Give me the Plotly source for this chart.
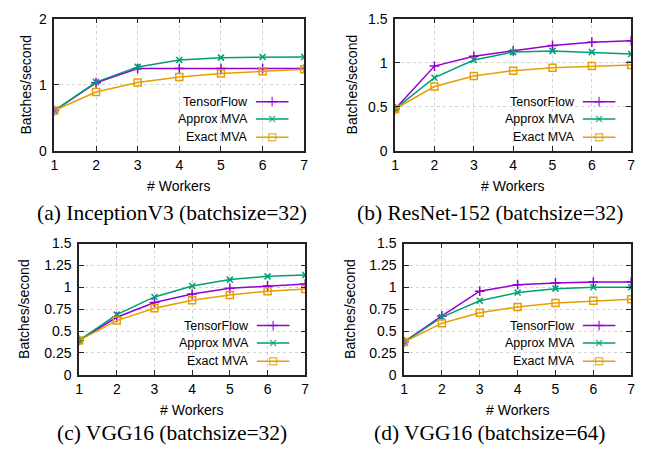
import plotly.graph_objects as go

W, H = 651, 462

workers = [1, 2, 3, 4, 5, 6, 7]
series_names = ["TensorFlow", "Approx MVA", "Exact MVA"]

a_tf = [0.61, 1.03, 1.245, 1.245, 1.245, 1.245, 1.245]
a_approx = [0.61, 1.04, 1.27, 1.375, 1.41, 1.42, 1.42]
a_exact = [0.61, 0.89, 1.035, 1.117, 1.17, 1.205, 1.235]

b_tf = [0.476, 0.962, 1.072, 1.134, 1.196, 1.233, 1.25]
b_approx = [0.476, 0.83, 1.03, 1.12, 1.134, 1.12, 1.098]
b_exact = [0.476, 0.73, 0.85, 0.91, 0.944, 0.962, 0.973]

c_tf = [0.393, 0.658, 0.827, 0.923, 0.989, 1.015, 1.037]
c_approx = [0.393, 0.688, 0.89, 1.015, 1.088, 1.125, 1.14]
c_exact = [0.393, 0.62, 0.76, 0.853, 0.912, 0.956, 0.98]

d_tf = [0.375, 0.673, 0.956, 1.03, 1.05, 1.06, 1.06]
d_approx = [0.375, 0.66, 0.846, 0.94, 0.985, 1.0, 1.0]
d_exact = [0.375, 0.59, 0.71, 0.776, 0.82, 0.846, 0.864]

captions = ["(a) InceptionV3 (batchsize=32)", "(b) ResNet-152 (batchsize=32)",
            "(c) VGG16 (batchsize=32)", "(d) VGG16 (batchsize=64)"]

yticks_a = [0, 1, 2]
yticks_b = [0, 0.5, 1, 1.5]
yticks_cd = [0, 0.25, 0.5, 0.75, 1, 1.25, 1.5]
ytext_a = ["0", "1", "2"]
ytext_b = ["0", "0.5", "1", "1.5"]
ytext_cd = ["0", "0.25", "0.5", "0.75", "1", "1.25", "1.5"]

colors = ["#9400D3", "#009E73", "#E69F00"]
symbols = ["cross-thin-open", "x-thin-open", "square-open"]
msizes = [7, 6, 7]

# panel pixel boxes: left, right, top, bottom
boxes = [(51, 304, 11, 148), (396, 635, 11, 148), (76, 305, 244, 380), (405, 635, 244, 380)]
panels = [
    ([a_tf, a_approx, a_exact], yticks_a, ytext_a, [0, 2]),
    ([b_tf, b_approx, b_exact], yticks_b, ytext_b, [0, 1.5]),
    ([c_tf, c_approx, c_exact], yticks_cd, ytext_cd, [0, 1.5]),
    ([d_tf, d_approx, d_exact], yticks_cd, ytext_cd, [0, 1.5]),
]
ytitle_x = [22, 352, 20, 350]
xtitle_y = [184, 184, 416, 416]
cap_pos = [(170, 212), (492, 212), (170, 440), (492, 440)]

FONT = "Liberation Sans, Arial, sans-serif"
fig = go.Figure()
layout = dict(width=W, height=H, margin=dict(l=0, r=0, t=0, b=0),
              paper_bgcolor="white", plot_bgcolor="rgba(0,0,0,0)", showlegend=False,
              font=dict(family=FONT, size=14, color="black"))
annotations = []

for i, (box, (series, ytv, ytt, yr)) in enumerate(zip(boxes, panels)):
    l, r, t, b = box
    n = i + 1
    xs = "" if n == 1 else str(n)
    xd = [l / W, r / W]
    yd = [1 - b / H, 1 - t / H]
    axcommon = dict(showline=True, linecolor="#222", linewidth=1.5, mirror="allticks",
                    ticks="inside", ticklen=5, tickwidth=1, tickcolor="#222",
                    showgrid=True, gridcolor="#d2d2d2", griddash="dot", gridwidth=1,
                    zeroline=False, tickfont=dict(size=14, family=FONT), fixedrange=True)
    layout["xaxis" + xs] = dict(domain=xd, range=[1, 7], tickvals=workers,
                                anchor="y" + xs, ticklabelstandoff=1, **axcommon)
    layout["yaxis" + xs] = dict(domain=yd, range=yr, tickvals=ytv, ticktext=ytt,
                                anchor="x" + xs, ticklabelstandoff=3, **axcommon)
    for s, vals in enumerate(series):
        fig.add_trace(go.Scatter(x=workers, y=vals, mode="lines+markers", name=series_names[s],
                                 xaxis="x" + xs, yaxis="y" + xs,
                                 line=dict(color=colors[s], width=1.5),
                                 marker=dict(symbol=symbols[s], size=msizes[s], color=colors[s],
                                             line=dict(color=colors[s], width=1.5))))
    # legend overlay axes in pixel units
    wpx, hpx = r - l, b - t
    ox = str(n + 4)
    layout["xaxis" + ox] = dict(overlaying="x" + xs, range=[0, wpx], visible=False,
                                anchor="y" + ox, fixedrange=True)
    layout["yaxis" + ox] = dict(overlaying="y" + xs, range=[0, hpx], visible=False,
                                anchor="x" + ox, fixedrange=True)
    rows = [51, 33, 14]
    for s in range(3):
        fig.add_trace(go.Scatter(x=[wpx - 49, wpx - 32.5, wpx - 16], y=[rows[s]] * 3,
                                 mode="lines+markers", xaxis="x" + ox, yaxis="y" + ox,
                                 line=dict(color=colors[s], width=1.5),
                                 marker=dict(symbol=symbols[s], size=[0, msizes[s], 0],
                                             color=colors[s],
                                             line=dict(color=colors[s], width=1.5)),
                                 hoverinfo="skip"))
        annotations.append(dict(text=series_names[s], x=wpx - 55, y=rows[s],
                                xref="x" + ox, yref="y" + ox, xanchor="right", yanchor="middle",
                                showarrow=False, font=dict(size=12.5, family=FONT)))
    # axis titles
    annotations.append(dict(text="Batches/second", x=ytitle_x[i] / W, y=1 - (t + b) / 2 / H,
                            xref="paper", yref="paper", textangle=-90, showarrow=False,
                            xanchor="center", yanchor="middle", font=dict(size=14, family=FONT)))
    annotations.append(dict(text="# Workers", x=(l + r) / 2 / W, y=1 - xtitle_y[i] / H,
                            xref="paper", yref="paper", showarrow=False,
                            xanchor="center", yanchor="middle", font=dict(size=14, family=FONT)))
    cx, cy = cap_pos[i]
    annotations.append(dict(text=captions[i], x=cx / W, y=1 - cy / H, xref="paper", yref="paper",
                            showarrow=False, xanchor="center", yanchor="middle",
                            font=dict(size=21.5, family="Liberation Serif, Times New Roman, serif")))

layout["annotations"] = annotations
fig.update_layout(**layout)
fig.write_html("out.html")
